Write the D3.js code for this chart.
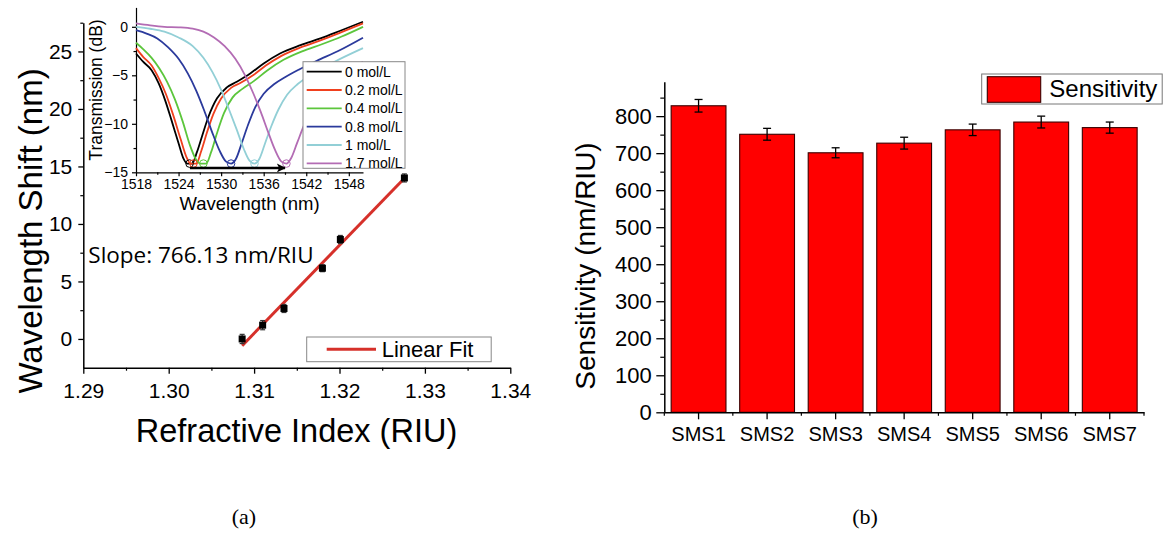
<!DOCTYPE html>
<html><head><meta charset="utf-8">
<script src="https://cdn.jsdelivr.net/npm/d3@7"></script>
<style>
body{margin:0;background:#fff}
svg{display:block}
text{font-family:"Liberation Sans",Arial,sans-serif;fill:#000}
</style>
</head><body>
<svg id="c" width="1163" height="533"></svg>
<script>
// ---------- data: panel (a) main ----------
const riIndex  = [1.3086, 1.3110, 1.3135, 1.3180, 1.3201, 1.3276];
const wlShift  = [0.00, 1.20, 2.65, 6.15, 8.65, 14.00];
const shiftErr = [0.40, 0.40, 0.35, 0.30, 0.35, 0.35];
const riErr    = [0.0003, 0.0003, 0.0003, 0.0003, 0.0003, 0.0003];
const fitSlope = 766.13;
const mainXTicks = [1.29, 1.30, 1.31, 1.32, 1.33, 1.34];
const mainXMinor = [1.295, 1.305, 1.315, 1.325, 1.335];
const mainYTicks = [0, 5, 10, 15, 20, 25];
const mainYMinor = [2.5, 7.5, 12.5, 17.5, 22.5, 27.5];

// ---------- data: panel (a) inset spectra [wavelength nm, transmission dB] ----------
const concLabels = ["0 mol/L", "0.2 mol/L", "0.4 mol/L", "0.8 mol/L", "1 mol/L", "1.7 mol/L"];
const spec00 = [[1518,-2.75],[1519,-3.6],[1520.2,-4.47],[1521.2,-5.84],[1522.1,-7.56],[1523,-9.62],[1524,-12],[1524.7,-13.6],[1525.2,-14.1],[1525.9,-14.1],[1526.6,-12.9],[1527.3,-11.3],[1528.2,-9.3],[1529.4,-7.4],[1530.8,-6.25],[1532.2,-5.67],[1534.1,-4.81],[1536,-3.78],[1538.3,-2.75],[1541.2,-1.89],[1544,-1.2],[1546.8,-0.41],[1550,0.52]];
const spec02 = [[1518,-2.2],[1519,-3.1],[1520.2,-4.0],[1521.2,-5.3],[1522.2,-6.9],[1523.2,-9.0],[1524.3,-11.6],[1525.1,-13.4],[1525.7,-14.1],[1526.5,-14.1],[1527.2,-12.8],[1528,-10.9],[1528.9,-9.0],[1530,-7.4],[1531.4,-6.3],[1532.7,-5.8],[1534.5,-5.0],[1536.3,-4.0],[1538.5,-3.0],[1541.3,-2.1],[1544,-1.4],[1546.8,-0.6],[1550,0.35]];
const spec04 = [[1518,-1.65],[1519,-2.3],[1520.2,-3.2],[1521.3,-4.3],[1522.4,-5.7],[1523.5,-7.5],[1524.6,-9.8],[1525.6,-12.2],[1526.4,-13.6],[1527.1,-14.1],[1527.9,-14.1],[1528.6,-12.9],[1529.4,-11.0],[1530.4,-8.9],[1531.6,-7.3],[1533,-6.4],[1534.6,-5.6],[1536.5,-4.5],[1538.8,-3.4],[1541.5,-2.5],[1544.2,-1.8],[1547,-1.0],[1550,0.0]];
const spec08 = [[1518,-0.35],[1519.5,-0.7],[1521,-1.2],[1522.5,-2.1],[1524,-3.3],[1525.3,-4.8],[1526.5,-6.6],[1527.6,-8.6],[1528.7,-10.8],[1529.8,-12.8],[1530.7,-13.9],[1531.4,-14.1],[1532.1,-13.6],[1532.9,-12.0],[1533.8,-10.1],[1534.8,-8.3],[1536,-6.9],[1537.5,-5.9],[1539,-5.2],[1541,-4.4],[1543.5,-3.5],[1546.5,-2.5],[1550,-1.13]];
const spec10 = [[1518,0.0],[1520,-0.2],[1522,-0.5],[1524,-1.1],[1526,-2.0],[1527.5,-3.2],[1528.8,-4.7],[1530,-6.5],[1531.1,-8.5],[1532.2,-10.6],[1533.2,-12.6],[1534,-13.8],[1534.7,-14.1],[1535.4,-13.6],[1536.2,-12.0],[1537.1,-10.2],[1538.1,-8.5],[1539.3,-7.0],[1540.8,-5.9],[1543,-4.8],[1546,-3.6],[1550,-2.2]];
const spec17 = [[1518,0.35],[1520,0.15],[1522,0.0],[1524,-0.05],[1526,-0.2],[1527.5,-0.5],[1529,-1.1],[1530.5,-2.0],[1532,-3.3],[1533.3,-4.9],[1534.5,-6.8],[1535.6,-8.8],[1536.6,-10.8],[1537.6,-12.7],[1538.5,-13.9],[1539.2,-14.1],[1539.9,-13.5],[1540.7,-12.0],[1541.6,-10.3],[1543,-8.0],[1545,-6.0],[1547.5,-4.6],[1550,-3.6]];
const dipWavelength = [1525.55, 1526.1, 1527.5, 1531.4, 1534.7, 1539.2];
const dipDepth = [-14.1, -14.1, -14.1, -14.1, -14.1, -14.1];
const shiftArrow = [[1525.6, -14.55], [1539.0, -14.55]];
const insetXTicks = [1518, 1524, 1530, 1536, 1542, 1548];
const insetXMinor = [1521, 1527, 1533, 1539, 1545];
const insetYTicks = [-15, -10, -5, 0];
const insetYMinor = [-12.5, -7.5, -2.5];

// ---------- data: panel (b) ----------
const sensCategories = ["SMS1", "SMS2", "SMS3", "SMS4", "SMS5", "SMS6", "SMS7"];
const sensValues = [828, 751, 701, 727, 763, 784, 769];
const sensErr    = [17, 16, 13.5, 16, 15.5, 16, 15];
const sensYTicks = [0, 100, 200, 300, 400, 500, 600, 700, 800];
const sensYMinor = [50, 150, 250, 350, 450, 550, 650, 750, 850];

// ---------- styles ----------
const specColors = ["#000000", "#f0401e", "#5cc63c", "#2b3a9c", "#92cfd6", "#b36cb4"];
const fitColor = "#d6302a";

const svg = d3.select("#c");

function styleAxis(g, fs) {
  g.attr("font-family", '"Liberation Sans",Arial,sans-serif').attr("font-size", fs);
  g.selectAll("path.domain").attr("stroke", "#000").attr("stroke-width", 1.5);
  g.selectAll(".tick line").attr("stroke", "#000").attr("stroke-width", 1.3);
  g.selectAll(".tick text").attr("fill", "#000");
}
function minorAxis(gen, vals, size, tx, ty) {
  const g = svg.append("g").attr("transform", `translate(${tx},${ty})`)
    .call(gen.tickValues(vals).tickFormat("").tickSize(size).tickSizeOuter(0));
  g.select("path.domain").remove();
  g.selectAll(".tick line").attr("stroke", "#000").attr("stroke-width", 1.2);
}

// ================= Panel (a) main =================
const xA = d3.scaleLinear().domain([1.29, 1.34]).range([83.3, 510.3]);
const yA = d3.scaleLinear().domain([-2.5, 27.5]).range([367.7, 22.7]);

minorAxis(d3.axisBottom(xA), mainXMinor, 3, 0, 367.7);
minorAxis(d3.axisLeft(yA), mainYMinor, 3, 83.3, 0);
const gxA = svg.append("g").attr("transform", "translate(0,367.7)")
  .call(d3.axisBottom(xA).tickValues(mainXTicks).tickFormat(d3.format(".2f")).tickSize(6).tickSizeOuter(0).tickPadding(9));
styleAxis(gxA, 21);
const gyA = svg.append("g").attr("transform", "translate(83.3,0)")
  .call(d3.axisLeft(yA).tickValues(mainYTicks).tickSize(5).tickSizeOuter(0).tickPadding(6));
styleAxis(gyA, 21);

svg.append("text").attr("x", 296.5).attr("y", 441.7).attr("text-anchor", "middle")
  .attr("font-size", 32.5).text("Refractive Index (RIU)");
svg.append("text").attr("transform", "translate(42,231) rotate(-90)").attr("text-anchor", "middle")
  .attr("font-size", 33).text("Wavelength Shift (nm)");

// linear fit
const fitIntercept = d3.mean(wlShift) - fitSlope * d3.mean(riIndex);
const fitX = d3.extent(riIndex);
svg.append("line")
  .attr("x1", xA(fitX[0])).attr("y1", yA(fitSlope * fitX[0] + fitIntercept))
  .attr("x2", xA(fitX[1])).attr("y2", yA(fitSlope * fitX[1] + fitIntercept))
  .attr("stroke", fitColor).attr("stroke-width", 3);

// error bars + points
const pts = riIndex.map((r, i) => ({ r, s: wlShift[i], e: shiftErr[i], re: riErr[i] }));
const eb = svg.append("g").attr("stroke", "#333").attr("stroke-width", 1.2);
pts.forEach(p => {
  eb.append("line").attr("x1", xA(p.r)).attr("x2", xA(p.r)).attr("y1", yA(p.s - p.e)).attr("y2", yA(p.s + p.e));
  eb.append("line").attr("x1", xA(p.r - p.re)).attr("x2", xA(p.r + p.re)).attr("y1", yA(p.s)).attr("y2", yA(p.s));
  [p.s - p.e, p.s + p.e].forEach(v => eb.append("line").attr("x1", xA(p.r) - 2.5).attr("x2", xA(p.r) + 2.5).attr("y1", yA(v)).attr("y2", yA(v)));
});
svg.append("g").selectAll("rect").data(pts).join("rect")
  .attr("x", d => xA(d.r) - 3.5).attr("y", d => yA(d.s) - 3.5)
  .attr("width", 7).attr("height", 7).attr("fill", "#000");

svg.append("text").attr("x", 88.3).attr("y", 262.7)
  .style("font-family", '"Open Sans",sans-serif').attr("font-size", 22.5).text("Slope: 766.13 nm/RIU");

// legend (a)
svg.append("rect").attr("x", 306.7).attr("y", 337).attr("width", 184.5).attr("height", 24.7)
  .attr("fill", "#fff").attr("stroke", "#888").attr("stroke-width", 1);
svg.append("line").attr("x1", 326.7).attr("x2", 376).attr("y1", 349.3).attr("y2", 349.3)
  .attr("stroke", fitColor).attr("stroke-width", 3);
svg.append("text").attr("x", 381.7).attr("y", 356.5).attr("font-size", 22).text("Linear Fit");

// ================= Panel (a) inset =================
const xI = d3.scaleLinear().domain([1518, 1550]).range([136, 363]);
const yI = d3.scaleLinear().domain([-15, 2]).range([172.3, 7.4]);

minorAxis(d3.axisBottom(xI), insetXMinor, 2.5, 0, 172.3);
minorAxis(d3.axisLeft(yI), insetYMinor, 2.5, 136, 0);
const gxI = svg.append("g").attr("transform", "translate(0,172.3)")
  .call(d3.axisBottom(xI).tickValues(insetXTicks).tickSize(4).tickSizeOuter(0).tickPadding(3).tickFormat(d3.format("d")));
styleAxis(gxI, 14);
const gyI = svg.append("g").attr("transform", "translate(136,0)")
  .call(d3.axisLeft(yI).tickValues(insetYTicks).tickSize(4).tickSizeOuter(0).tickPadding(4));
styleAxis(gyI, 14);
gxI.selectAll("path.domain, .tick line").attr("stroke-width", 1.2);
gyI.selectAll("path.domain, .tick line").attr("stroke-width", 1.2);

svg.append("text").attr("x", 249.5).attr("y", 210).attr("text-anchor", "middle")
  .attr("font-size", 18.5).text("Wavelength (nm)");
svg.append("text").attr("transform", "translate(102,90) rotate(-90)").attr("text-anchor", "middle")
  .attr("font-size", 17.5).text("Transmission (dB)");

const spectra = [spec00, spec02, spec04, spec08, spec10, spec17];
const lineI = d3.line().x(d => xI(d[0])).y(d => yI(d[1])).curve(d3.curveMonotoneX);
svg.append("g").selectAll("path").data(spectra).join("path")
  .attr("d", lineI).attr("fill", "none")
  .attr("stroke", (d, i) => specColors[i]).attr("stroke-width", 1.8);

svg.append("g").selectAll("circle").data(dipWavelength).join("circle")
  .attr("cx", d => xI(d)).attr("cy", (d, i) => yI(dipDepth[i]))
  .attr("r", 3.8).attr("fill", "none").attr("stroke", (d, i) => specColors[i]).attr("stroke-width", 1);

// shift arrow
svg.append("defs").append("marker").attr("id", "ah").attr("viewBox", "0 0 10 10")
  .attr("refX", 9).attr("refY", 5).attr("markerWidth", 5).attr("markerHeight", 3.6)
  .attr("orient", "auto").attr("markerUnits", "strokeWidth")
  .append("path").attr("d", "M0,0 L10,5 L0,10 L2.5,5 Z").attr("fill", "#000");
svg.append("line")
  .attr("x1", xI(shiftArrow[0][0])).attr("y1", yI(shiftArrow[0][1]))
  .attr("x2", xI(shiftArrow[1][0])).attr("y2", yI(shiftArrow[1][1]))
  .attr("stroke", "#000").attr("stroke-width", 2.5).attr("marker-end", "url(#ah)");

// inset legend
svg.append("rect").attr("x", 303).attr("y", 61.7).attr("width", 102).attr("height", 106.6)
  .attr("fill", "#fff").attr("stroke", "#888").attr("stroke-width", 1);
const legI = svg.append("g");
concLabels.forEach((lab, i) => {
  const cy = 71.7 + i * 18.32;
  legI.append("line").attr("x1", 306.7).attr("x2", 341.7).attr("y1", cy).attr("y2", cy)
    .attr("stroke", specColors[i]).attr("stroke-width", 1.8);
  legI.append("text").attr("x", 345).attr("y", cy + 5).attr("font-size", 14).text(lab);
});

// ================= Panel (b) =================
const xB = d3.scaleBand().domain(sensCategories).range([664.3, 1144]).paddingInner(0.2).paddingOuter(0.1);
const yB = d3.scaleLinear().domain([0, 893]).range([412.3, 81.7]);

svg.append("g").selectAll("rect").data(sensCategories).join("rect")
  .attr("x", d => xB(d)).attr("width", xB.bandwidth())
  .attr("y", (d, i) => yB(sensValues[i])).attr("height", (d, i) => yB(0) - yB(sensValues[i]))
  .attr("fill", "#ff0000").attr("stroke", "#3a0000").attr("stroke-width", 1.1);

const ebB = svg.append("g").attr("stroke", "#000").attr("stroke-width", 1.3);
sensCategories.forEach((c, i) => {
  const cx = xB(c) + xB.bandwidth() / 2;
  const lo = yB(sensValues[i] - sensErr[i]), hi = yB(sensValues[i] + sensErr[i]);
  ebB.append("line").attr("x1", cx).attr("x2", cx).attr("y1", lo).attr("y2", hi);
  ebB.append("line").attr("x1", cx - 4).attr("x2", cx + 4).attr("y1", lo).attr("y2", lo);
  ebB.append("line").attr("x1", cx - 4).attr("x2", cx + 4).attr("y1", hi).attr("y2", hi);
});

// minor ticks at category boundaries
const step = xB.step();
const bounds = d3.range(sensCategories.length + 1).map(k => 664.3 + k * step);
const gMinB = svg.append("g");
bounds.forEach(b => gMinB.append("line").attr("x1", b).attr("x2", b).attr("y1", 412.3).attr("y2", 415.8)
  .attr("stroke", "#000").attr("stroke-width", 1.2));
minorAxis(d3.axisLeft(yB), sensYMinor, 4, 664.3, 0);

const gxB = svg.append("g").attr("transform", "translate(0,412.3)")
  .call(d3.axisBottom(xB).tickSize(7).tickSizeOuter(0).tickPadding(8));
styleAxis(gxB, 20);
const gyB = svg.append("g").attr("transform", "translate(664.3,0)")
  .call(d3.axisLeft(yB).tickValues(sensYTicks).tickSize(8).tickSizeOuter(0).tickPadding(4.5));
styleAxis(gyB, 22);

svg.append("text").attr("transform", "translate(595,266) rotate(-90)").attr("text-anchor", "middle")
  .attr("font-size", 28).text("Sensitivity (nm/RIU)");

// legend (b)
svg.append("rect").attr("x", 981.7).attr("y", 74).attr("width", 180.5).attr("height", 30)
  .attr("fill", "#fff").attr("stroke", "#777").attr("stroke-width", 1);
svg.append("rect").attr("x", 987.3).attr("y", 76.7).attr("width", 53.4).attr("height", 25.6)
  .attr("fill", "#ff0000").attr("stroke", "#3a0000").attr("stroke-width", 1.1);
svg.append("text").attr("x", 1049.3).attr("y", 97.3).attr("font-size", 24).text("Sensitivity");

// captions
svg.append("text").attr("x", 244).attr("y", 524).attr("text-anchor", "middle")
  .style("font-family", '"Liberation Serif","Times New Roman",serif').attr("font-size", 22).text("(a)");
svg.append("text").attr("x", 865).attr("y", 524).attr("text-anchor", "middle")
  .style("font-family", '"Liberation Serif","Times New Roman",serif').attr("font-size", 22).text("(b)");
</script>
</body></html>
